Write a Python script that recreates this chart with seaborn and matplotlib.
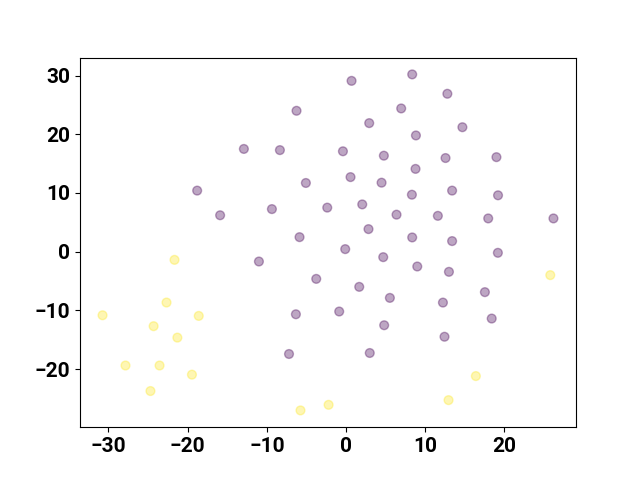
import numpy as np
import pandas as pd
import seaborn as sns
from matplotlib import pyplot as plt

# embedded points
purple_x = [-6.25, -12.9, -8.35, -5.07, -18.8, -15.9, -9.36, -2.37, -5.87,
            0.7, 8.36, 12.8, 6.97, 2.93, 14.7, 8.83, -0.39, 4.78, 12.57,
            19.0, 8.78, 0.57, 4.49, 8.32, 13.4, 19.2, 2.05, 6.38, 11.6,
            17.96, 26.2, 2.84, 8.36, 13.4,
            -11.0, -3.76, -6.33, -7.2,
            -0.1, 4.7, 19.18, 9.0, 13.0, 1.67, 5.54, 17.54, -0.86, 12.24,
            18.4, 4.82, 12.44, 3.0]
purple_y = [24.0, 17.5, 17.3, 11.7, 10.4, 6.2, 7.25, 7.5, 2.47,
            29.1, 30.2, 26.9, 24.4, 21.9, 21.2, 19.8, 17.1, 16.35, 15.95,
            16.1, 14.1, 12.7, 11.75, 9.7, 10.4, 9.6, 8.05, 6.3, 6.1,
            5.66, 5.66, 3.84, 2.42, 1.8,
            -1.68, -4.64, -10.67, -17.44,
            0.43, -0.94, -0.2, -2.53, -3.44, -6.0, -7.88, -6.9, -10.2, -8.68,
            -11.4, -12.54, -14.5, -17.27]
yellow_x = [-21.66, -22.67, -30.75, -18.6, -24.3, -21.3, -27.85, -23.55,
            -19.46, -24.7, -5.75, -2.2, 25.8, 16.4, 12.95]
yellow_y = [-1.4, -8.67, -10.84, -10.95, -12.7, -14.65, -19.4, -19.4,
            -20.96, -23.75, -27.05, -26.1, -4.0, -21.2, -25.3]

df = pd.DataFrame({
    "x": purple_x + yellow_x,
    "y": purple_y + yellow_y,
    "label": [0] * len(purple_x) + [1] * len(yellow_x),
})

plt.rcParams['font.family'] = ['Roboto', 'DejaVu Sans']
plt.rcParams['font.weight'] = 'bold'
plt.rcParams['font.size'] = 15

fig, ax = plt.subplots(figsize=(6.4, 4.8), dpi=100)
sns.scatterplot(data=df, x="x", y="y", hue="label",
                palette={0: "#440154", 1: "#fde725"},
                alpha=0.35, s=40, edgecolor="face", linewidth=1,
                legend=False, ax=ax)
ax.set_xlabel("")
ax.set_ylabel("")
for lab in ax.get_xticklabels() + ax.get_yticklabels():
    lab.set_fontweight('bold')

fig.savefig("out.png", dpi=100)
